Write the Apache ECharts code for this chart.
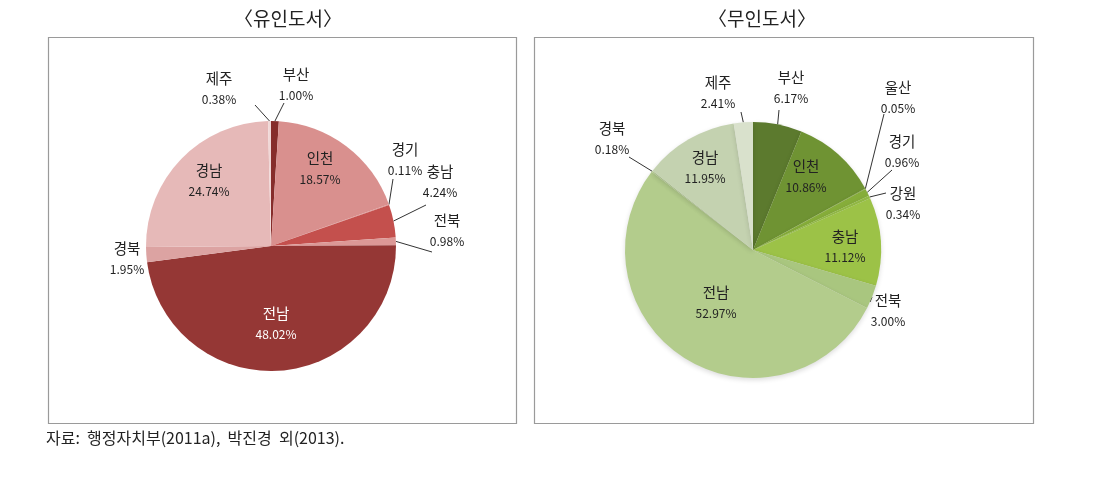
<!DOCTYPE html>
<html>
<head>
<meta charset="utf-8">
<script src="https://cdn.jsdelivr.net/npm/echarts@6/dist/echarts.min.js"></script>
<style>
html,body{margin:0;padding:0;background:#fff;}
#chart{width:1099px;height:489px;}
</style>
</head>
<body>
<div id="chart"></div>
<script>
// ---- data ----
const leftTitle = '〈유인도서〉';
const rightTitle = '〈무인도서〉';
const sourceNote = '자료:  행정자치부(2011a),  박진경  외(2013).';

const leftNames  = ['부산','인천','경기','충남','전북','전남','경북','경남','제주'];
const leftValues = [1.00, 18.57, 0.11, 4.24, 0.98, 48.02, 1.95, 24.74, 0.38];

const rightNames  = ['부산','인천','울산','경기','강원','충남','전북','전남','경북','경남','제주'];
const rightValues = [6.17, 10.86, 0.05, 0.96, 0.34, 11.12, 3.00, 52.97, 0.18, 11.95, 2.41];

// ---- styles ----
const leftColors = {
  '부산':'#862d2b','인천':'#d9908e','경기':'#d9908e','충남':'#c4504d','전북':'#dc9896',
  '전남':'#953735','경북':'#dca3a2','경남':'#e6b9b8','제주':'#f0d8d7'
};
const rightColors = {
  '부산':'#5c7a2e','인천':'#6f9333','울산':'#7fa23c','경기':'#86ad3a','강원':'#93bb45',
  '충남':'#9cc247','전북':'#a9c67f','전남':'#b3cc8c','경북':'#b8cf96','경남':'#c4d2b0','제주':'#d9e1cc'
};
const leftTextColor = {'전남':'#ffffff'};

// label placement (layout config, pixel positions of label blocks and leader-line ends)
const leftLabelPos = {
  '부산':{x:296,y:84,end:[284,103]},
  '인천':{x:320,y:168},
  '경기':{x:405,y:159,end:[393,179]},
  '충남':{x:440,y:181,end:[426,205]},
  '전북':{x:447,y:230,end:[432,252]},
  '전남':{x:276,y:323},
  '경북':{x:127,y:258},
  '경남':{x:209,y:180},
  '제주':{x:219,y:88,end:[255,105]}
};
const rightLabelPos = {
  '제주':{x:718,y:92,end:[741,112]},
  '부산':{x:791,y:87,end:[779,110]},
  '울산':{x:898,y:97,end:[884,114]},
  '경기':{x:902,y:151,end:[892,170]},
  '강원':{x:903,y:203,end:[886,193]},
  '인천':{x:806,y:176},
  '충남':{x:845,y:246},
  '전북':{x:888,y:310,end:[870,302]},
  '전남':{x:716,y:302},
  '경북':{x:612,y:138,end:[629,157]},
  '경남':{x:705,y:167}
};

const font = '"Noto Sans CJK KR","Noto Sans",sans-serif';

function buildData(names, values, colors, textColors){
  return names.map((n,i)=>({
    name:n, value:values[i],
    itemStyle:{color:colors[n]},
    label:{color:(textColors && textColors[n]) || '#222'}
  }));
}

function makeLayout(names, pos){
  return function(params){
    const n = names[params.dataIndex];
    const p = pos[n];
    if(!p) return {};
    const res = {x:p.x, y:p.y, align:'center', verticalAlign:'middle'};
    if(p.end && params.labelLinePoints){
      const s = params.labelLinePoints[0];
      res.labelLinePoints = [[s[0],s[1]], p.end, p.end];
    }
    return res;
  };
}

function series(names, values, colors, textColors, center, radius, pos, shade){
  return {
    type:'pie',
    center:center,
    radius:radius,
    startAngle:90,
    clockwise:true,
    avoidLabelOverlap:false,
    silent:true,
    animation:false,
    data:buildData(names, values, colors, textColors),
    itemStyle: shade ? {shadowBlur:5, shadowColor:'rgba(0,0,0,0.14)', shadowOffsetY:2, borderWidth:0} : {borderWidth:0},
    label:{
      show:true,
      position:'outside',
      fontFamily:font,
      formatter:function(p){ return '{n|'+p.name+'}\n{v|'+p.value.toFixed(2)+'%}'; },
      rich:{
        n:{fontSize:14.5, lineHeight:23, fontFamily:font},
        v:{fontSize:12, lineHeight:20, fontFamily:font}
      }
    },
    labelLine:{show:true, length:10, length2:10, lineStyle:{color:'#333', width:1}},
    labelLayout: makeLayout(names, pos)
  };
}

const chart = echarts.init(document.getElementById('chart'), null, {renderer:'canvas'});

const leftS = series(leftNames, leftValues, leftColors, leftTextColor, [271,246], 125, leftLabelPos, false);
const rightS = series(rightNames, rightValues, rightColors, null, [753,250], 128, rightLabelPos, true);
leftS.data.forEach(d=>{ if(!leftLabelPos[d.name].end) d.labelLine={show:false}; });
rightS.data.forEach(d=>{ if(!rightLabelPos[d.name].end) d.labelLine={show:false}; });

chart.setOption({
  backgroundColor:'#ffffff',
  title:[
    {text:leftTitle, left:283, top:4, textAlign:'center', textStyle:{fontFamily:font, fontSize:19, fontWeight:'normal', color:'#222'}},
    {text:rightTitle, left:757, top:4, textAlign:'center', textStyle:{fontFamily:font, fontSize:19, fontWeight:'normal', color:'#222'}}
  ],
  graphic:[
    {type:'rect', z:-1, shape:{x:48.5,y:37.5,width:468,height:386}, style:{fill:'#ffffff', stroke:'#9a9a9a', lineWidth:1.2}},
    {type:'rect', z:-1, shape:{x:534.5,y:37.5,width:499,height:386}, style:{fill:'#ffffff', stroke:'#9a9a9a', lineWidth:1.2}},
    {type:'text', left:46, top:430, style:{text:sourceNote, fontFamily:font, fontSize:16, fill:'#222'}}
  ],
  series:[leftS, rightS]
});
</script>
</body>
</html>
